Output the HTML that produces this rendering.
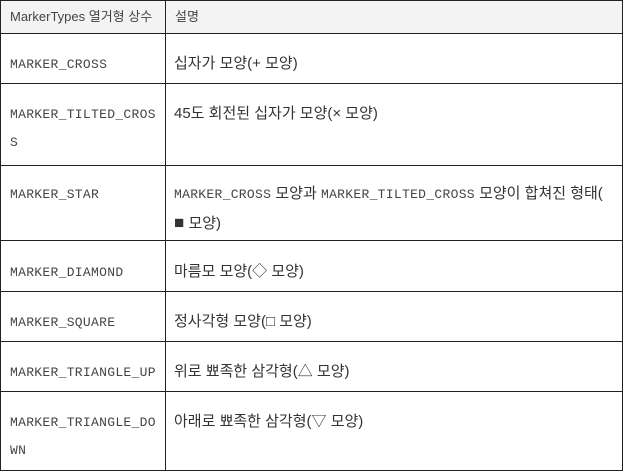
<!DOCTYPE html>
<html><head><meta charset="utf-8"><style>
body{margin:0;width:624px;height:474px;background:#fff;overflow:hidden;position:relative;font-family:"Liberation Sans","Noto Sans CJK KR",sans-serif;color:#333}
.h{position:absolute;left:1px;top:1px;width:621px;height:32px;background:#f3f3f3}
.l{position:absolute;background:#222}
.t{position:absolute;font-size:15px;line-height:28px;white-space:nowrap}
.m{font-family:"Liberation Mono","Noto Sans CJK KR",monospace;font-size:13px;color:#444;letter-spacing:0.3px}
.hd{font-size:13px;color:#444}
</style></head><body>
<div class="h"></div>
<div class="l" style="left:0;top:0;width:623px;height:1px"></div>
<div class="l" style="left:0;top:33px;width:623px;height:1px"></div>
<div class="l" style="left:0;top:83px;width:623px;height:1px"></div>
<div class="l" style="left:0;top:165px;width:623px;height:1px"></div>
<div class="l" style="left:0;top:240px;width:623px;height:1px"></div>
<div class="l" style="left:0;top:291px;width:623px;height:1px"></div>
<div class="l" style="left:0;top:341px;width:623px;height:1px"></div>
<div class="l" style="left:0;top:391px;width:623px;height:1px"></div>
<div class="l" style="left:0;top:470px;width:623px;height:1px"></div>
<div class="l" style="left:0;top:0;width:1px;height:471px"></div>
<div class="l" style="left:165px;top:0;width:1px;height:471px"></div>
<div class="l" style="left:622px;top:0;width:1px;height:471px"></div>

<div class="t hd" style="left:10px;top:3px">MarkerTypes 열거형 상수</div>
<div class="t hd" style="left:175px;top:3px">설명</div>

<div class="t m" style="left:10px;top:51px">MARKER_CROSS</div>
<div class="t" style="left:174px;top:50px">십자가 모양(+ 모양)</div>

<div class="t m" style="left:10px;top:101px">MARKER_TILTED_CROS<br>S</div>
<div class="t" style="left:174px;top:100px">45도 회전된 십자가 모양(× 모양)</div>

<div class="t m" style="left:10px;top:181px">MARKER_STAR</div>
<div class="t" style="left:174px;top:180px"><span class="m">MARKER_CROSS</span> 모양과 <span class="m">MARKER_TILTED_CROSS</span> 모양이 합쳐진 형태(<br><span style="font-size:17px">■</span> 모양)</div>

<div class="t m" style="left:10px;top:259px">MARKER_DIAMOND</div>
<div class="t" style="left:174px;top:258px">마름모 모양(◇ 모양)</div>

<div class="t m" style="left:10px;top:309px">MARKER_SQUARE</div>
<div class="t" style="left:174px;top:308px">정사각형 모양(□ 모양)</div>

<div class="t m" style="left:10px;top:359px">MARKER_TRIANGLE_UP</div>
<div class="t" style="left:174px;top:358px">위로 뾰족한 삼각형(△ 모양)</div>

<div class="t m" style="left:10px;top:409px">MARKER_TRIANGLE_DO<br>WN</div>
<div class="t" style="left:174px;top:408px">아래로 뾰족한 삼각형(▽ 모양)</div>
</body></html>
